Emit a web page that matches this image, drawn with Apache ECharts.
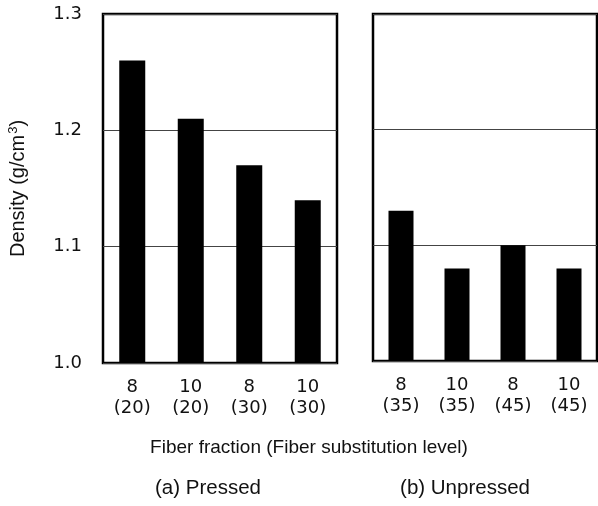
<!DOCTYPE html>
<html>
<head>
<meta charset="utf-8">
<script src="https://cdn.jsdelivr.net/npm/echarts@6/dist/echarts.min.js"></script>
<style>
  html, body { margin: 0; padding: 0; background: #fff; }
  #chart { width: 598px; height: 506px; }
</style>
</head>
<body>
<div id="chart"></div>
<script>
// Fiber fraction with substitution level in parentheses
const pressedCategories = ['8\n(20)', '10\n(20)', '8\n(30)', '10\n(30)'];
const unpressedCategories = ['8\n(35)', '10\n(35)', '8\n(45)', '10\n(45)'];

// Density in g/cm3
const pressedDensity = [1.26, 1.21, 1.17, 1.14];
const unpressedDensity = [1.13, 1.08, 1.10, 1.08];

// Density axis range and step
const yMin = 1.0;
const yMax = 1.3;
const yStep = 0.1;

const TEXT_FONT = '"Liberation Sans", Arial, sans-serif';
const NUM_FONT = '"DejaVu Sans", sans-serif';
const INK = '#111';

const chart = echarts.init(document.getElementById('chart'), null, { renderer: 'canvas' });

function valueAxis(gridIndex, showLabels) {
  return {
    type: 'value',
    gridIndex: gridIndex,
    min: yMin,
    max: yMax,
    interval: yStep,
    axisLine: { show: false },
    axisTick: { show: false },
    axisLabel: {
      show: showLabels,
      fontFamily: NUM_FONT,
      fontSize: 18,
      color: INK,
      margin: 21,
      formatter: v => v.toFixed(1)
    },
    splitLine: { show: true, lineStyle: { color: '#444', width: 1 } }
  };
}

function categoryAxis(gridIndex, data) {
  return {
    type: 'category',
    gridIndex: gridIndex,
    data: data,
    axisLine: { show: false },
    axisTick: { show: false },
    axisLabel: {
      fontFamily: NUM_FONT,
      fontSize: 18,
      color: INK,
      lineHeight: 21,
      margin: 14,
      interval: 0
    }
  };
}

const option = {
  backgroundColor: '#fff',
  animation: false,
  grid: [
    { left: 103, top: 14, width: 234, height: 349, show: true, borderColor: '#000', borderWidth: 2.5, backgroundColor: 'transparent' },
    { left: 373, top: 14, width: 224, height: 347, show: true, borderColor: '#000', borderWidth: 2.5, backgroundColor: 'transparent' }
  ],
  xAxis: [
    categoryAxis(0, pressedCategories),
    categoryAxis(1, unpressedCategories)
  ],
  yAxis: [
    Object.assign(valueAxis(0, true), {
      name: 'Density (g/cm{sup|3})',
      nameLocation: 'middle',
      nameGap: 74,
      nameTextStyle: {
        fontFamily: TEXT_FONT,
        fontSize: 20,
        color: INK,
        rich: {
          sup: { fontFamily: TEXT_FONT, fontSize: 13, color: INK, verticalAlign: 'top', padding: [0, 0, 9, 1] }
        }
      }
    }),
    valueAxis(1, false)
  ],
  series: [
    {
      type: 'bar',
      xAxisIndex: 0,
      yAxisIndex: 0,
      data: pressedDensity,
      barWidth: 26,
      itemStyle: { color: '#000' }
    },
    {
      type: 'bar',
      xAxisIndex: 1,
      yAxisIndex: 1,
      data: unpressedDensity,
      barWidth: 25,
      itemStyle: { color: '#000' }
    }
  ],
  graphic: [
    {
      type: 'text',
      x: 309,
      y: 448,
      style: { text: 'Fiber fraction (Fiber substitution level)', font: '19px ' + TEXT_FONT, fill: INK, align: 'center', verticalAlign: 'middle' }
    },
    {
      type: 'text',
      x: 208,
      y: 488,
      style: { text: '(a) Pressed', font: '20.5px ' + TEXT_FONT, fill: INK, align: 'center', verticalAlign: 'middle' }
    },
    {
      type: 'text',
      x: 465,
      y: 488,
      style: { text: '(b) Unpressed', font: '20.5px ' + TEXT_FONT, fill: INK, align: 'center', verticalAlign: 'middle' }
    }
  ]
};

chart.setOption(option);
</script>
</body>
</html>
